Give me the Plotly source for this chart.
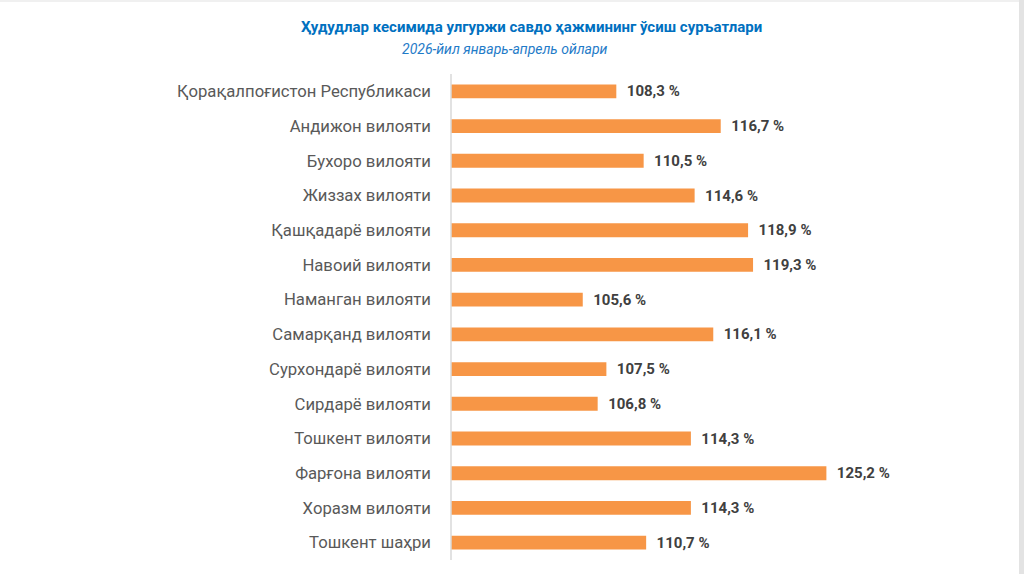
import plotly.graph_objects as go

regions = [
    "Қорақалпоғистон Республикаси",
    "Андижон вилояти",
    "Бухоро вилояти",
    "Жиззах вилояти",
    "Қашқадарё вилояти",
    "Навоий вилояти",
    "Наманган вилояти",
    "Самарқанд вилояти",
    "Сурхондарё вилояти",
    "Сирдарё вилояти",
    "Тошкент вилояти",
    "Фарғона вилояти",
    "Хоразм вилояти",
    "Тошкент шаҳри",
]
growth = [108.3, 116.7, 110.5, 114.6, 118.9, 119.3, 105.6, 116.1, 107.5, 106.8, 114.3, 125.2, 114.3, 110.7]
labels = ["\u00a0\u00a0" + f"{v:.1f}".replace(".", ",") + " %" for v in growth]

title_text = "Ҳудудлар кесимида улгуржи савдо ҳажмининг ўсиш суръатлари"
subtitle_text = "2026-йил январь-апрель ойлари"

L, R, T, B = 451, 24, 74, 14
W, H = 1024, 574
plot_w = W - L - R
plot_h = H - T - B
x_min = 95
x_max = x_min + plot_w / 12.43

fig = go.Figure(go.Bar(
    x=growth, y=regions, orientation="h",
    marker=dict(color="#F79646", line=dict(width=0)),
    width=0.4,
    text=labels, textposition="outside", cliponaxis=False,
    constraintext="none",
    textfont=dict(family="Roboto", size=15, color="#404040", weight="bold"),
    hoverinfo="skip",
))

fig.update_layout(
    width=W, height=H,
    margin=dict(l=L, r=R, t=T, b=B),
    paper_bgcolor="white", plot_bgcolor="white",
    showlegend=False,
    font=dict(family="Roboto"),
    xaxis=dict(range=[x_min, x_max], visible=False, fixedrange=True),
    yaxis=dict(autorange="reversed", showgrid=False, zeroline=False,
               showline=False, ticks="", ticklabelstandoff=19,
               tickfont=dict(family="Roboto", size=16.7, color="#595959")),
    shapes=[
        dict(type="line", xref="paper", yref="paper", x0=0, x1=0, y0=0, y1=1,
             line=dict(color="#D9D9D9", width=1.5)),
        dict(type="rect", xref="paper", yref="paper",
             x0=(1019 - L) / plot_w, x1=(1024 - L) / plot_w + 0.01,
             y0=-B / plot_h - 0.05, y1=1 + T / plot_h + 0.05,
             fillcolor="#E3E3E3", line=dict(width=0), layer="below"),
        dict(type="rect", xref="paper", yref="paper",
             x0=-L / plot_w - 0.01, x1=(1019 - L) / plot_w,
             y0=1 + (T - 2) / plot_h, y1=1 + T / plot_h + 0.05,
             fillcolor="#F0F0F0", line=dict(width=0), layer="below"),
    ],
    annotations=[
        dict(text=f"<b>{title_text}</b>", xref="paper", yref="paper",
             x=(531 - L) / plot_w, y=1 + (T - 27) / plot_h,
             xanchor="center", yanchor="middle", showarrow=False,
             font=dict(family="Roboto", size=15, color="#0070C0")),
        dict(text=f"<i>{subtitle_text}</i>", xref="paper", yref="paper",
             x=(505 - L) / plot_w, y=1 + (T - 49) / plot_h,
             xanchor="center", yanchor="middle", showarrow=False,
             font=dict(family="Roboto", size=14, color="#1F7BC8")),
    ],
)

fig.write_html("out.html")
